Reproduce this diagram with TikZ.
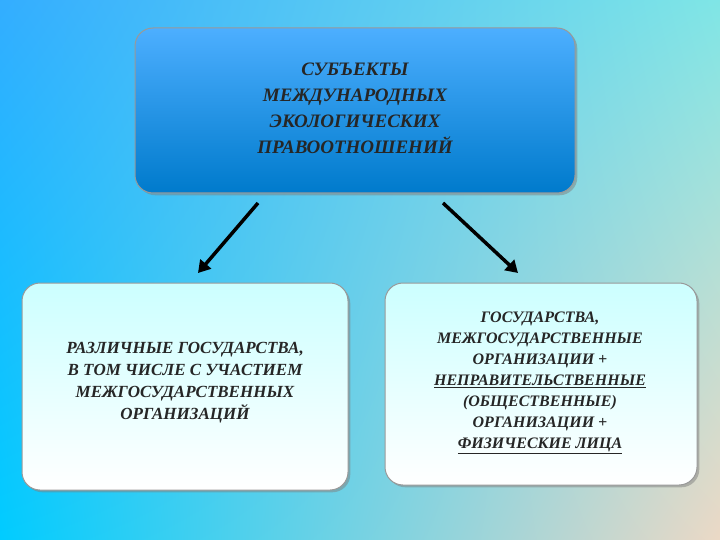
\documentclass[tikz,border=0pt]{standalone}
\usepackage{fontspec}
\setmainfont{Liberation Serif}
\usetikzlibrary{arrows.meta,shadows,shadings}
\begin{document}
\begin{tikzpicture}[x=1pt,y=-1pt,
  txt/.style={font=\bfseries\itshape\fontsize{17}{22}\selectfont, align=center, text=black!85},
  box/.style={draw=black!40, line width=1pt, rounded corners=18pt, drop shadow={opacity=0.5}},
  arr/.style={line width=3.5pt, -{Triangle[length=12pt,width=14pt]}}]
\useasboundingbox (0,0) rectangle (720,540);
\shade[upper left=cyan!60!blue!80!white, upper right=cyan!50!white!80!gray, lower left=cyan!80!blue, lower right=brown!30!white] (0,0) rectangle (720,540);
\shade[box, top color=cyan!55!blue!70!white, bottom color=cyan!60!blue!80!black] (135,28) rectangle (575,193);
\shade[box, top color=cyan!20!white, bottom color=white] (22,283) rectangle (348,490);
\shade[box, top color=cyan!20!white, bottom color=white] (385,283) rectangle (697,485);
\node[txt, font=\bfseries\itshape\fontsize{19}{26}\selectfont] (top) at (355,108) {СУБЪЕКТЫ\\МЕЖДУНАРОДНЫХ\\ЭКОЛОГИЧЕСКИХ\\ПРАВООТНОШЕНИЙ};
\node[txt] (left) at (185,383) {РАЗЛИЧНЫЕ ГОСУДАРСТВА,\\В ТОМ ЧИСЛЕ С УЧАСТИЕМ\\МЕЖГОСУДАРСТВЕННЫХ\\ОРГАНИЗАЦИЙ};
\node[txt, font=\bfseries\itshape\fontsize{16}{21}\selectfont] (right) at (540,383) {ГОСУДАРСТВА,\\МЕЖГОСУДАРСТВЕННЫЕ\\ОРГАНИЗАЦИИ +\\\underline{НЕПРАВИТЕЛЬСТВЕННЫЕ}\\(ОБЩЕСТВЕННЫЕ)\\ОРГАНИЗАЦИИ +\\\underline{ФИЗИЧЕСКИЕ ЛИЦА}};
\coordinate (a1) at (258,203); \coordinate (b1) at (198,273);
\coordinate (a2) at (443,203); \coordinate (b2) at (518,273);
\draw[arr] (a1) -- (b1);
\draw[arr] (a2) -- (b2);
\end{tikzpicture}
\end{document}
